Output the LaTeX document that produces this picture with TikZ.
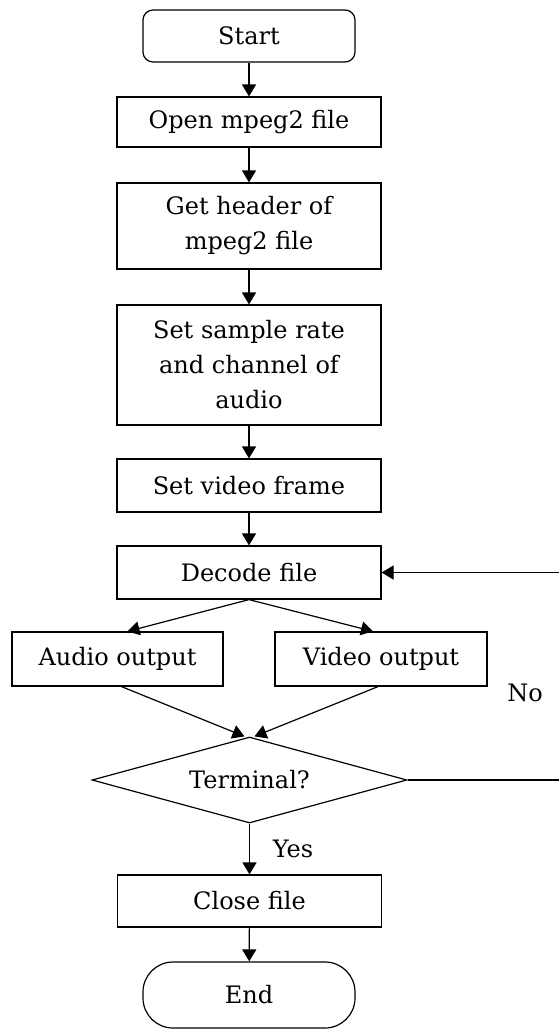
\documentclass[tikz,border=0pt]{standalone}
\usepackage{fontspec}
\setmainfont{DejaVu Serif}
\usetikzlibrary{shapes.geometric,arrows.meta}

\begin{document}
\begin{tikzpicture}[x=0.5pt, y=-0.5pt,
		box/.style={draw, line width=0.6pt, rectangle, minimum width=132pt, inner sep=0pt, align=center, font=\fontsize{12}{17.5}\selectfont},
		decision/.style={draw, line width=0.6pt, diamond, aspect=3.66, minimum width=157.5pt, minimum height=43pt, inner sep=0pt, font=\fontsize{12}{17.5}\selectfont},
		flow/.style={line width=0.6pt, -{Triangle[length=6pt,width=7pt]}}]
			\useasboundingbox (0,0) rectangle (558,1029);
			% Draw main column
			\node[box, rounded corners=5pt, minimum width=106pt, minimum height=26pt] (start) at (249,36) {Start};
			\node[box, minimum height=25pt] (open) at (249,122) {Open mpeg2 file};
			\node[box, minimum height=43pt] (header) at (249,226) {Get header of\\mpeg2 file};
			\node[box, minimum height=60pt] (sample) at (249,365) {Set sample rate\\and channel of\\audio};
			\node[box, minimum height=26.5pt] (vframe) at (249,485.5) {Set video frame};
			\node[box, minimum height=26.5pt] (decode) at (249,572.5) {Decode file};
			% Draw outputs
			\node[box, minimum width=105.5pt, minimum height=27pt] (audio) at (117.5,659) {Audio output};
			\node[box, minimum width=106pt, minimum height=27pt] (vout) at (381,659) {Video output};
			\node[decision] (term) at (249.5,780) {Terminal?};
			\node[box, minimum height=26pt] (close) at (249.5,901) {Close file};
			\node[box, rounded corners=15pt, minimum width=106pt, minimum height=33pt] (end) at (249,995) {End};
			\coordinate (loopb) at (560,780);
			\coordinate (loopt) at (560,572.5);
			% Draw arrows
			\draw[flow] (start) -- (open);
			\draw[flow] (open) -- (header);
			\draw[flow] (header) -- (sample);
			\draw[flow] (sample) -- (vframe);
			\draw[flow] (vframe) -- (decode);
			\draw[flow] (decode.south) -- ([xshift=5pt]audio.north);
			\draw[flow] (decode.south) -- ([xshift=-4pt]vout.north);
			\draw[flow] ([xshift=2pt]audio.south) -- ([xshift=-2.5pt]term.north);
			\draw[flow] ([xshift=-1.5pt]vout.south) -- ([xshift=2.5pt]term.north);
			\draw[flow] (term.south) -- (close.north) node[midway, right=8pt, font=\fontsize{12}{17.5}\selectfont]{Yes};
			\draw[flow] (close) -- (end);
			\draw[flow] (term.east) -- (loopb) -- (loopt) -- (decode.east);
			\node[font=\fontsize{12}{17.5}\selectfont] (no) at (525,693) {No};
\end{tikzpicture}
\end{document}
